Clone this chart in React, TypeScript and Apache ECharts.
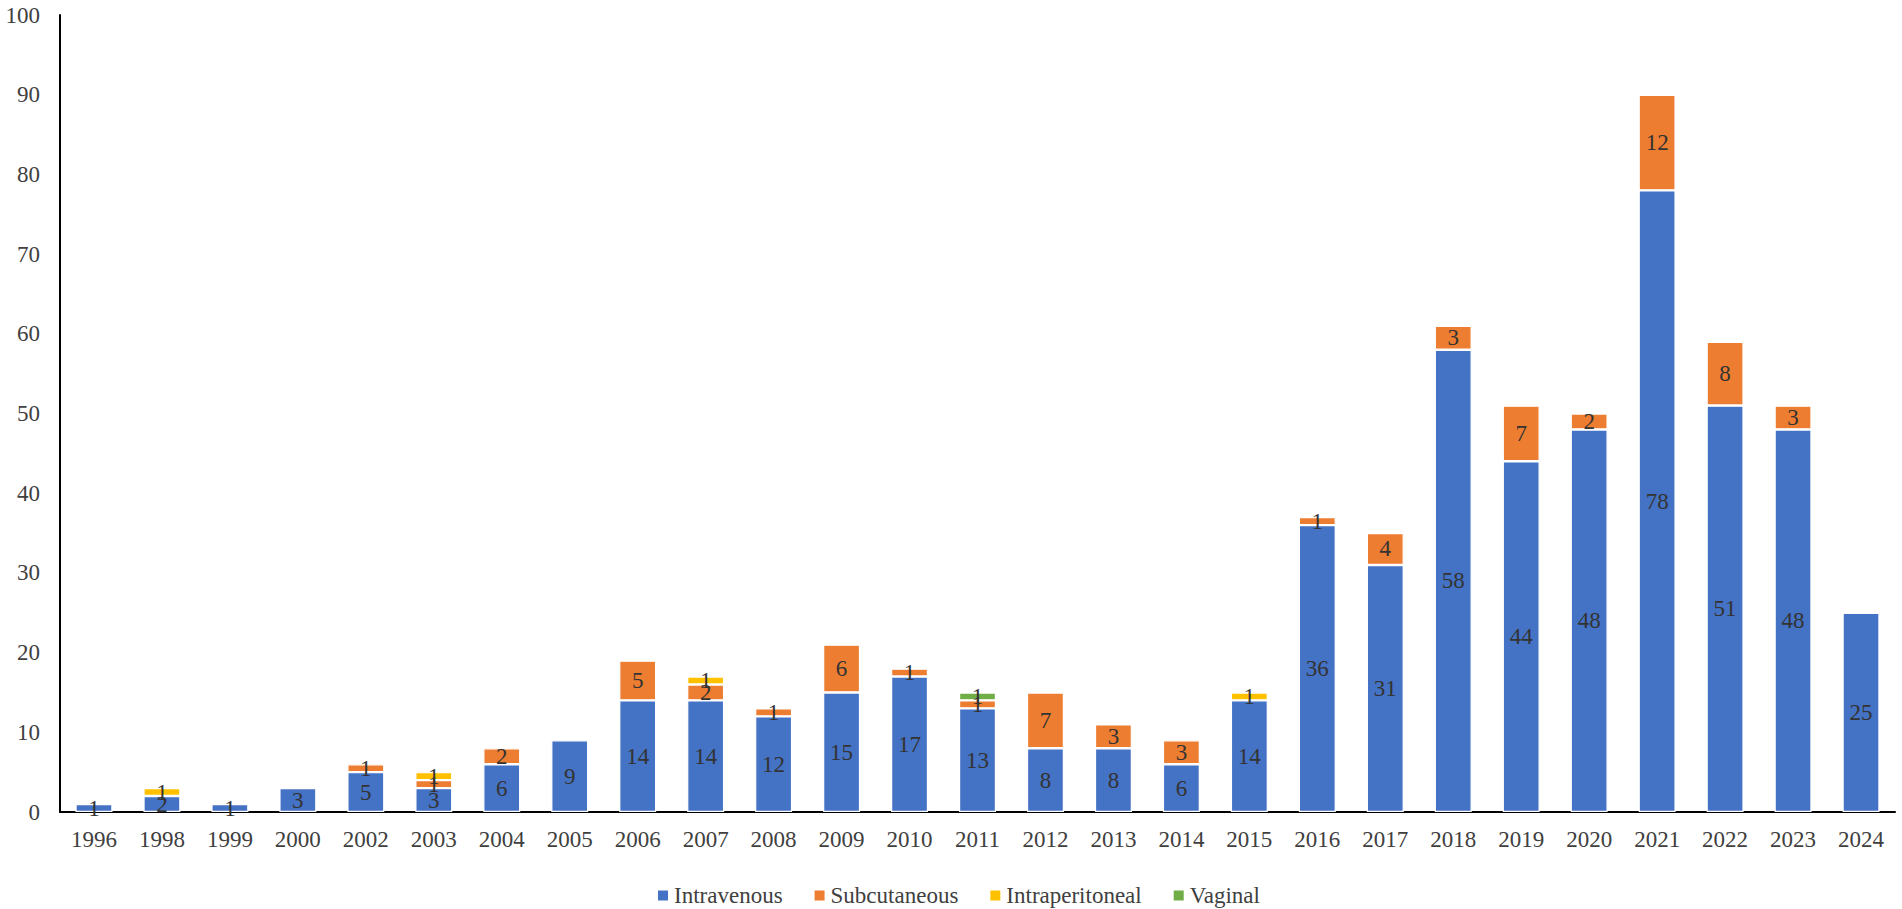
import React, { useEffect, useRef } from "react";
import * as echarts from "echarts";

const years = ["1996","1998","1999","2000","2002","2003","2004","2005","2006","2007","2008","2009","2010","2011","2012","2013","2014","2015","2016","2017","2018","2019","2020","2021","2022","2023","2024"];
const intravenous = [1,2,1,3,5,3,6,9,14,14,12,15,17,13,8,8,6,14,36,31,58,44,48,78,51,48,25];
const subcutaneous = [0,0,0,0,1,1,2,0,5,2,1,6,1,1,7,3,3,0,1,4,3,7,2,12,8,3,0];
const intraperitoneal = [0,1,0,0,0,1,0,0,0,1,0,0,0,0,0,0,0,1,0,0,0,0,0,0,0,0,0];
const vaginal = [0,0,0,0,0,0,0,0,0,0,0,0,0,1,0,0,0,0,0,0,0,0,0,0,0,0,0];
const yTicks = { min: 0, max: 100, interval: 10 };

const FONT = "Liberation Serif";

export default function App() {
  const ref = useRef<HTMLDivElement>(null);
  useEffect(() => {
    document.body.style.margin = "0";
    const chart = echarts.init(ref.current!, null, { renderer: "svg" });
    const txt = { fontFamily: FONT, fontSize: 23, fontStyle: "normal", fontWeight: "normal" };
    const mk = (name: string, data: number[], color: string) => ({
      name,
      type: "bar",
      stack: "total",
      data: data.map((v) => (v === 0 ? null : v)),
      barWidth: 37,
      itemStyle: { color, borderColor: "#ffffff", borderWidth: 1.2 },
      label: { show: true, position: "inside", color: "#333333", ...txt },
      emphasis: { disabled: true },
    });
    chart.setOption({
      animation: false,
      textStyle: { ...txt },
      grid: { left: 60, right: 7, top: 15, bottom: 97, containLabel: false },
      legend: {
        left: 651,
        top: 879,
        icon: "rect",
        itemWidth: 12,
        itemHeight: 12,
        itemGap: 30,
        textStyle: { ...txt, color: "#404040" },
        data: ["Intravenous", "Subcutaneous", "Intraperitoneal", "Vaginal"],
      },
      xAxis: {
        type: "category",
        data: years,
        axisLine: { lineStyle: { color: "#000000", width: 2 } },
        axisTick: { show: false },
        axisLabel: { ...txt, color: "#404040", margin: 16, interval: 0 },
      },
      yAxis: {
        type: "value",
        min: yTicks.min,
        max: yTicks.max,
        interval: yTicks.interval,
        axisLine: { show: true, lineStyle: { color: "#000000", width: 2 } },
        axisTick: { show: false },
        splitLine: { show: false },
        axisLabel: { ...txt, color: "#404040", margin: 20 },
      },
      series: [
        mk("Intravenous", intravenous, "#4472C4"),
        mk("Subcutaneous", subcutaneous, "#ED7D31"),
        mk("Intraperitoneal", intraperitoneal, "#FFC000"),
        mk("Vaginal", vaginal, "#70AD47"),
      ],
    });
    return () => chart.dispose();
  }, []);
  return (
    <div
      ref={ref}
      style={{ position: "absolute", left: 0, top: 0, width: 1902, height: 909 }}
    />
  );
}
